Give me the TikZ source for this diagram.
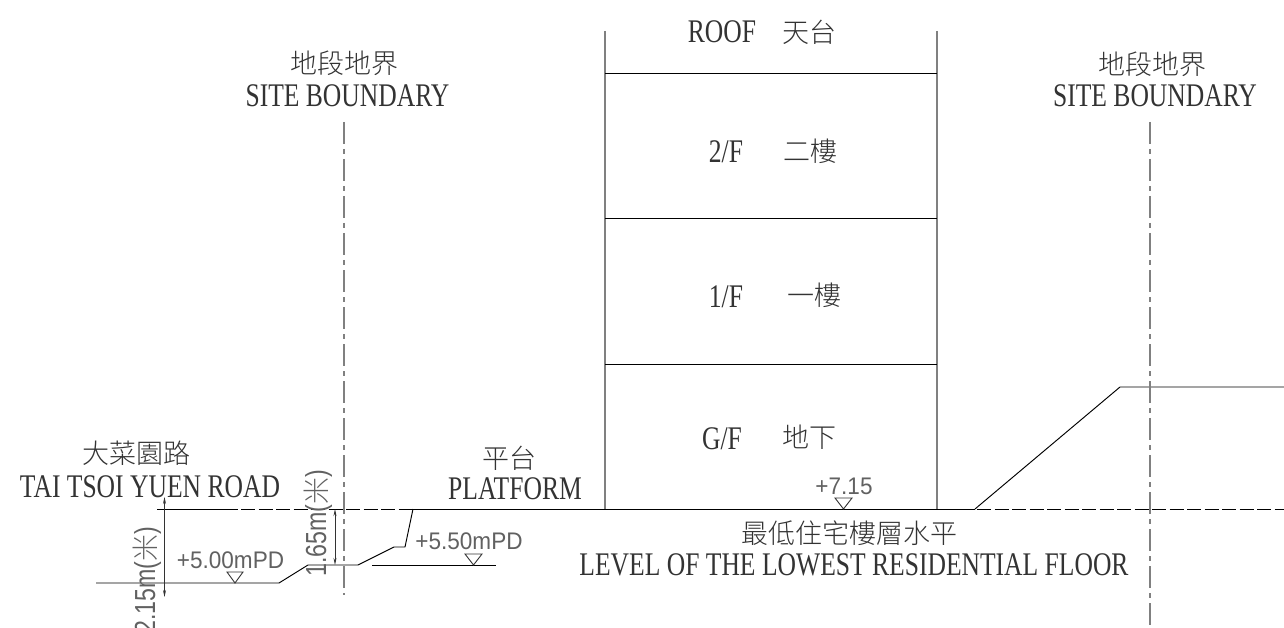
\documentclass[tikz,border=0pt]{standalone}
\usepackage{fontspec}
\setmainfont[FakeStretch=0.775]{Liberation Serif}
\setsansfont[FakeStretch=0.94]{Liberation Sans}
\newfontfamily\dimfont[FakeStretch=0.8]{Liberation Sans}
\newfontfamily\cjk{Noto Sans CJK TC Light}
\usetikzlibrary{arrows.meta}
\definecolor{wallgrey}{gray}{0.5}
\definecolor{lblgrey}{gray}{0.38}
\tikzset{
  x=1pt,y=-1pt,
  ln/.style={line width=0.95pt,black},
  wall/.style={line width=1.7pt,wallgrey},
  grid dash/.style={line width=0.95pt,black,dash pattern=on 14pt off 3.5pt},
  boundary/.style={line width=1.6pt,wallgrey,dash pattern=on 22pt off 5pt on 5pt off 5pt},
  dimline/.style={line width=0.8pt,black!80,{Stealth[length=7pt,width=3pt]}-{Stealth[length=7pt,width=3pt]}},
  lbl/.style={inner sep=0pt,font=\fontsize{33}{33}\selectfont,text=black!80},
  zh/.style={inner sep=0pt,font=\cjk\fontsize{27}{27}\selectfont,text=black!80},
  lvl/.style={inner sep=0pt,font=\sffamily\fontsize{24}{24}\selectfont,text=lblgrey},
  dimtxt/.style={inner sep=0pt,font=\dimfont\fontsize{29}{29}\selectfont,text=lblgrey,rotate=90,anchor=base west},
  levelmark/.style={line width=0.9pt,black!80},
}
\begin{document}
\begin{tikzpicture}
\useasboundingbox (0,0) rectangle (1284,628);
\clip (0,0) rectangle (1284,628);
% building
\coordinate (wlt) at (605,31); \coordinate (wlb) at (605,509);
\coordinate (wrt) at (937,31); \coordinate (wrb) at (937,509);
\draw[wall] (wlt) -- (wlb);
\draw[wall] (wrt) -- (wrb);
\draw[ln] (605,73) -- (937,73);
\draw[ln] (605,218) -- (937,218);
\draw[ln] (605,364) -- (937,364);
% level line
\draw[ln] (157,509) -- (238,509);
\draw[grid dash] (241,509) -- (411,509);
\draw[ln] (411,509) -- (975,509);
\draw[grid dash] (977,509) -- (1284,509);
% ground
\draw[ln] (975,509) -- (1120,387) -- (1284,387);
\draw[ln] (96,583) -- (279,583) -- (308,565) -- (358,565) -- (394,547) -- (405,547) -- (413,509);
\draw[ln] (372,565) -- (496,565);
% boundaries
\draw[boundary] (344,122) -- (344,595);
\draw[boundary] (1150,122) -- (1150,628);
% dimensions
\draw[dimline] (164.5,497) -- (164.5,597);
\draw[dimline] (335,509) -- (335,565);
% level marks
\draw[levelmark] (227,572) -- (243,572) -- (235,583) -- cycle;
\draw[levelmark] (465,554) -- (482,554) -- (473.5,565) -- cycle;
\draw[levelmark] (835,498) -- (852,498) -- (843.5,509) -- cycle;
% labels
\node[lbl] (roof) at (722,32) {ROOF};
\node[zh] (roofz) at (809,32) {天台};
\node[lbl] (f2) at (726,152) {2/F};
\node[zh] (f2z) at (810,151) {二樓};
\node[lbl] (f1) at (726,297) {1/F};
\node[zh] (f1z) at (814,295) {一樓};
\node[lbl] (gf) at (722,439) {G/F};
\node[zh] (gfz) at (809,437) {地下};
\node[zh] (sbl) at (344.5,63) {地段地界};
\node[lbl] (sblt) at (347.5,96) {SITE BOUNDARY};
\node[zh] (sbr) at (1152,64) {地段地界};
\node[lbl] (sbrt) at (1155,96) {SITE BOUNDARY};
\node[zh] (road) at (136,453) {大菜園路};
\node[lbl] (roadt) at (150,487) {TAI TSOI YUEN ROAD};
\node[zh] (plat) at (509,458) {平台};
\node[lbl] (platt) at (515,489) {PLATFORM};
\node[zh] (low) at (849,533) {最低住宅樓層水平};
\node[lbl] (lowt) at (854,565) {LEVEL OF THE LOWEST RESIDENTIAL FLOOR};
\node[lvl] (l500) at (230.5,560) {+5.00mPD};
\node[lvl] (l550) at (469,541) {+5.50mPD};
\node[lvl] (l715) at (844,486) {+7.15};
\node[dimtxt] (d165) at (326,577) {1.65m({\cjk\fontsize{27}{27}\selectfont 米})};
\node[dimtxt] (d215) at (155,634) {2.15m({\cjk\fontsize{27}{27}\selectfont 米})};
\end{tikzpicture}
\end{document}
